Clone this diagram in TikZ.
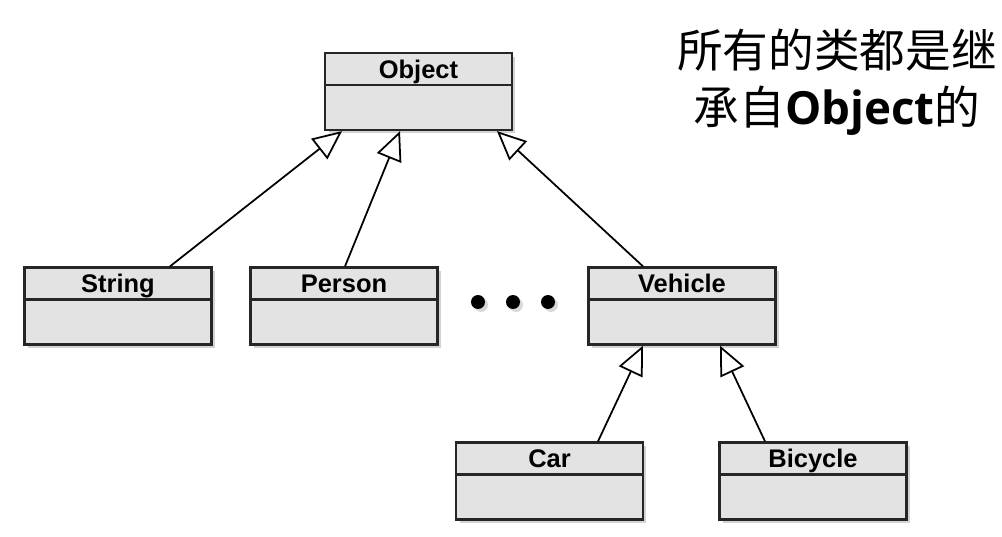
\documentclass[tikz,border=0pt]{standalone}
\usepackage{fontspec}
\setmainfont{Liberation Sans}
\newfontfamily\cjk{Noto Sans CJK SC}
\newfontfamily\ouvert{Open Sans}
\usetikzlibrary{arrows.meta,shadows}

\tikzset{
  classe/.style={draw=black!85, line width=1.3pt, fill=gray!22,
    minimum width=3.74cm, minimum height=1.54cm, inner sep=0pt,
    drop shadow={shadow xshift=0.07cm, shadow yshift=-0.07cm, opacity=0.35}},
  titre/.style={font=\fontsize{14.5}{16}\selectfont\bfseries, inner sep=0pt, anchor=base},
  herite/.style={line width=1pt, -{Triangle[open, length=0.58cm, width=0.52cm, fill=white]}},
  point/.style={fill=black, drop shadow={shadow xshift=0.06cm, shadow yshift=-0.06cm, opacity=0.3}}
}

% Une classe : nom, position, texte
\newcommand{\classe}[3]{%
  \node[classe] (#1) at (#2) {};
  \draw[line width=1.3pt, black!85] ([yshift=-0.66cm]#1.north west) -- ([yshift=-0.66cm]#1.north east);
  \node[titre] at ([yshift=-0.53cm]#1.north) {#3};
}

\begin{document}
\begin{tikzpicture}[x=0.02cm, y=-0.02cm]
  \useasboundingbox (0,0) rectangle (1002,537);

  % Les classes
  \classe{object}{418.5,91.5}{Object}
  \classe{string}{118,306}{String}
  \classe{person}{344,306}{Person}
  \classe{vehicle}{682,306}{Vehicle}
  \classe{car}{549.5,481}{Car}
  \classe{bicycle}{813,481}{Bicycle}

  % Les heritages
  \draw[herite] ([xshift=1.04cm]string.north) -- ([xshift=-1.53cm]object.south);
  \draw[herite] ([xshift=0.02cm]person.north) -- ([xshift=-0.37cm]object.south);
  \draw[herite] ([xshift=-0.78cm]vehicle.north) -- ([xshift=1.57cm]object.south);
  \draw[herite] ([xshift=0.97cm]car.north) -- ([xshift=-0.78cm]vehicle.south);
  \draw[herite] ([xshift=-0.96cm]bicycle.north) -- ([xshift=0.76cm]vehicle.south);

  % Les points
  \foreach \x in {478,513,548}
    \fill[point] (\x,302) circle (0.14cm);

  % Le texte
  \node[align=center, font=\cjk\fontsize{26}{32.5}\selectfont] (note) at (837,82)
    {所有的类都是继\\承自{\ouvert\bfseries Object}的};

\end{tikzpicture}
\end{document}
